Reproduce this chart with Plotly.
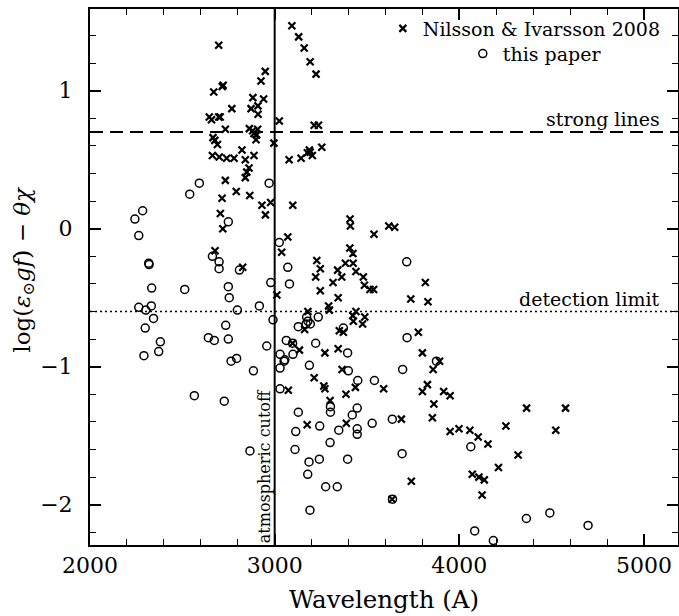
import plotly.graph_objects as go

# Nilsson & Ivarsson 2008 lines (crosses)
nilsson_wl = [3093, 3130, 3160, 3192, 3224, 2697, 2949, 2926, 2716, 2721,
              2670, 2882, 2940, 2909, 2872, 2768, 2910, 2646, 2658, 2697,
              2705, 3025, 2733, 2863, 2881, 2908, 2888, 2902, 2899, 3214,
              3237, 2666, 2676, 2690, 2996, 3255, 3188, 3177, 3192, 3204,
              3078, 3143, 2823, 2663, 2700, 2740, 2780, 2841, 2888, 2861,
              2849, 2841, 2733, 2792, 2865, 2715, 2931, 2978, 3098, 2950,
              2706, 2719, 3071, 3038, 2677, 2827, 3012, 3408, 3410, 3618,
              3650, 3538, 3228, 3247, 3222, 3247, 3341, 3363, 3316, 3407,
              3424, 3383, 3425, 3440, 3480, 3486, 3516, 3536, 3344, 3292,
              3296, 3180, 3162, 3423, 3440, 3488, 3426, 3476, 3350, 3372,
              3737, 3830, 3816, 3778, 3800, 3858, 3893, 3344, 3272, 3134,
              3097, 3214, 3266, 3272, 3365, 3386, 3437, 3074, 3590, 3800,
              3827, 3915, 3950, 3862, 3854, 3686, 3176, 3388, 3300, 3950,
              3998, 4057, 4102, 4155, 4252, 4364, 4575, 4522, 4318, 4212,
              4070, 4106, 4135, 4123, 3740, 3636]
nilsson_val = [1.47, 1.39, 1.31, 1.21, 1.12, 1.33, 1.14, 1.07, 1.03, 1.04,
               0.99, 0.95, 0.94, 0.89, 0.87, 0.87, 0.83, 0.81, 0.79, 0.81,
               0.81, 0.78, 0.72, 0.725, 0.71, 0.72, 0.69, 0.68, 0.645, 0.75,
               0.75, 0.66, 0.64, 0.61, 0.62, 0.59, 0.57, 0.55, 0.555, 0.53,
               0.50, 0.51, 0.57, 0.53, 0.52, 0.51, 0.51, 0.50, 0.53, 0.44,
               0.41, 0.37, 0.35, 0.27, 0.24, 0.22, 0.17, 0.19, 0.17, 0.10,
               0.11, 0.00, -0.06, -0.17, -0.16, -0.28, -0.48, 0.07, 0.02, 0.02,
               0.01, -0.04, -0.23, -0.29, -0.35, -0.45, -0.30, -0.35, -0.39, -0.14,
               -0.18, -0.25, -0.25, -0.31, -0.35, -0.41, -0.44, -0.44, -0.50, -0.56,
               -0.59, -0.60, -0.73, -0.63, -0.60, -0.64, -0.67, -0.69, -0.74, -0.75,
               -0.51, -0.53, -0.39, -0.75, -0.90, -1.02, -0.96, -0.87, -0.90, -0.88,
               -0.83, -1.08, -1.14, -1.16, -1.02, -1.20, -1.15, -1.17, -1.16, -1.18,
               -1.13, -1.18, -1.21, -1.27, -1.37, -1.38, -1.42, -1.41, -1.245, -1.47,
               -1.45, -1.46, -1.51, -1.56, -1.43, -1.30, -1.30, -1.46, -1.64, -1.73,
               -1.78, -1.80, -1.82, -1.93, -1.83, -1.96]

# this paper (circles)
paper_wl = [2243, 2285, 2264, 2318, 2320, 2334, 2264, 2302, 2332, 2344,
            2299, 2381, 2372, 2292, 2513, 2540, 2592, 2565, 2663, 2699,
            2699, 2749, 2749, 2754, 2809, 2798, 2735, 2749, 2641, 2673,
            2794, 2764, 2727, 2885, 2866, 2917, 2970, 2979, 2957, 2991,
            3025, 3071, 3080, 3029, 3029, 3051, 3055, 3063, 3099, 3097,
            3029, 3128, 3114, 3110, 3128, 3186, 3179, 3191, 3188, 3173,
            3180, 3170, 3193, 3236, 3222, 3244, 3242, 3276, 3339, 3300,
            3302, 3302, 3347, 3372, 3395, 3399, 3395, 3420, 3447, 3447,
            3447, 3450, 3540, 3528, 3637, 3638, 3690, 3693, 3715, 3717,
            3876, 4062, 4083, 4184, 4363, 4490, 4697]
paper_val = [0.07, 0.13, -0.05, -0.25, -0.26, -0.43, -0.57, -0.59, -0.56, -0.65,
             -0.72, -0.82, -0.89, -0.92, -0.44, 0.25, 0.33, -1.21, -0.20, -0.24,
             -0.29, 0.05, -0.42, -0.50, -0.30, -0.59, -0.70, -0.80, -0.79, -0.81,
             -0.94, -0.96, -1.25, -1.03, -1.61, -0.56, 0.33, -0.39, -0.85, -0.66,
             -0.10, -0.28, -0.40, -0.91, -1.01, -0.96, -0.95, -0.81, -0.91, -0.83,
             -1.16, -1.33, -1.47, -1.60, -0.71, -1.69, -1.78, -2.04, -0.99, -0.64,
             -0.67, -0.69, -0.69, -0.64, -0.83, -1.43, -1.67, -1.87, -1.87, -1.55,
             -1.29, -1.33, -1.46, -0.72, -0.90, -1.03, -1.67, -1.35, -1.30, -1.45,
             -1.49, -1.10, -1.10, -1.41, -1.38, -1.96, -1.63, -1.02, -0.24, -0.79,
             -0.96, -1.58, -2.19, -2.26, -2.10, -2.06, -2.15]

strong_level = 0.7
detection_level = -0.6
cutoff_wl = 3000
x_range = [2000, 5184]
y_range = [-2.292, 1.592]
x_ticks = [2000, 3000, 4000, 5000]
y_ticks = [-2, -1, 0, 1]

FONT = "DejaVu Serif"

fig = go.Figure()
fig.add_trace(go.Scatter(
    x=nilsson_wl, y=nilsson_val, mode="markers", name="Nilsson & Ivarsson 2008",
    marker=dict(symbol="x-thin", size=7, color="black",
                line=dict(width=2.2, color="black")),
    legend="legend2"))
fig.add_trace(go.Scatter(
    x=paper_wl, y=paper_val, mode="markers", name="this paper",
    marker=dict(symbol="circle-open", size=8, color="black",
                line=dict(width=1.5, color="black")),
    legend="legend3"))

fig.add_shape(type="line", xref="paper", x0=0, x1=1, yref="y",
              y0=strong_level, y1=strong_level,
              line=dict(color="black", width=2, dash="13px,7px"))
fig.add_shape(type="line", xref="paper", x0=0, x1=1, yref="y",
              y0=detection_level, y1=detection_level,
              line=dict(color="black", width=1.6, dash="2px,3px"))
fig.add_shape(type="line", xref="x", x0=cutoff_wl, x1=cutoff_wl, yref="paper",
              y0=0, y1=1, line=dict(color="black", width=2))

ann_font = dict(family=FONT, size=19, color="black")
fig.add_annotation(text="strong lines", xref="paper", x=0.972, xanchor="right",
                   yref="y", y=strong_level, yanchor="bottom", yshift=0,
                   showarrow=False, font=ann_font)
fig.add_annotation(text="detection limit", xref="paper", x=0.972, xanchor="right",
                   yref="y", y=detection_level, yanchor="bottom", yshift=0,
                   showarrow=False, font=ann_font)
fig.add_annotation(text="atmospheric cutoff", xref="x", x=cutoff_wl, xanchor="right",
                   xshift=1, yref="paper", y=0, yanchor="bottom", yshift=0,
                   textangle=-90, showarrow=False,
                   font=dict(family=FONT, size=16, color="black"))
fig.add_annotation(text="log(<i>ε</i><sub>⊙</sub><i>gf</i>) − <i>θχ</i>",
                   xref="paper", x=-0.112, xanchor="center",
                   yref="paper", y=0.514, yanchor="middle",
                   textangle=-90, showarrow=False,
                   font=dict(family=FONT, size=23, color="black"))
fig.add_annotation(text="Wavelength (A)", xref="paper", x=0.5, xanchor="center",
                   yref="paper", y=-0.1026, yanchor="middle", showarrow=False,
                   font=dict(family=FONT, size=24.5, color="black"))

axis_common = dict(
    showline=True, linecolor="black", linewidth=2, mirror="ticks",
    ticks="inside", ticklen=11, tickwidth=1.5, tickcolor="black",
    showgrid=False, zeroline=False, automargin=False,
    tickfont=dict(family=FONT, size=22, color="black"),
)
fig.update_xaxes(range=x_range, tickvals=x_ticks, ticklabelstandoff=0,
                 minor=dict(ticks="inside", ticklen=6, tickwidth=1.2,
                            tickcolor="black", dtick=200, tick0=2000, showgrid=False),
                 **axis_common)
fig.update_yaxes(range=y_range, tickvals=y_ticks, ticklabelstandoff=11,
                 minor=dict(ticks="inside", ticklen=6, tickwidth=1.2,
                            tickcolor="black", dtick=0.2, tick0=0, showgrid=False),
                 **axis_common)

leg_font = dict(family=FONT, size=19, color="black")
fig.update_layout(
    width=679, height=616,
    margin=dict(l=90, r=1, t=9, b=71, autoexpand=False),
    paper_bgcolor="white", plot_bgcolor="white",
    font=dict(family=FONT, color="black"),
    showlegend=True,
    legend2=dict(x=0.498, xanchor="left", y=0.999, yanchor="top",
                 bgcolor="rgba(0,0,0,0)", borderwidth=0, font=leg_font),
    legend3=dict(x=0.634, xanchor="left", y=0.952, yanchor="top",
                 bgcolor="rgba(0,0,0,0)", borderwidth=0, font=leg_font),
)

fig.write_html(
    "out.html",
    config={"displayModeBar": False},
    post_script="document.body.style.margin='0';document.body.style.overflow='hidden';",
)
